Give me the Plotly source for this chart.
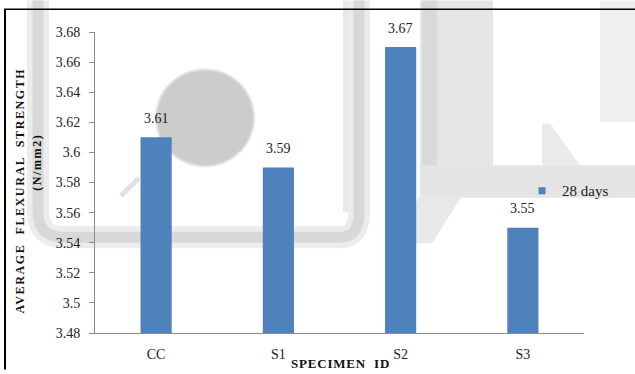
import plotly.graph_objects as go

# ---- data ----
specimens = ["CC", "S1", "S2", "S3"]
strength_28d = [3.61, 3.59, 3.67, 3.55]
series_name = "28 days"
y_ticks = [3.48, 3.50, 3.52, 3.54, 3.56, 3.58, 3.60, 3.62, 3.64, 3.66, 3.68]
y_tick_labels = [f"{v:g}" for v in y_ticks]

# ---- page geometry (pixels) ----
W, H = 635, 374
L, R, T, B = 95, 51, 32, 37
PW, PH = W - L - R, H - T - B

def px(x):
    return (x - L) / PW

def py(y):
    return (H - B - y) / PH

FONT = "Liberation Serif"
BAR = "#4F81BD"
TXT = "#222222"

fig = go.Figure()
fig.add_trace(go.Bar(
    x=specimens, y=strength_28d, name=series_name,
    marker=dict(color=BAR, line=dict(width=0)),
    showlegend=False,
))
# legend entry with a small square key
fig.add_trace(go.Scatter(
    x=[None], y=[None], mode="markers", name=series_name,
    marker=dict(symbol="square", size=7, color=BAR),
))

# value labels above the bars
for s, v in zip(specimens, strength_28d):
    fig.add_annotation(x=s, y=v, text=f"{v:.2f}", showarrow=False,
                       yshift=19, font=dict(family=FONT, size=14, color=TXT))

# faint grey background artwork
shapes = []
def rect(x0, y0, x1, y1, color):
    shapes.append(dict(type="rect", xref="paper", yref="paper", layer="below",
                       x0=px(x0), x1=px(x1), y0=py(y1), y1=py(y0),
                       fillcolor=color, line=dict(width=0)))

def poly(points, color):
    d = "M " + " L ".join(f"{px(a)},{py(b)}" for a, b in points) + " Z"
    shapes.append(dict(type="path", xref="paper", yref="paper", layer="below",
                       path=d, fillcolor=color, line=dict(width=0)))

rect(420, 0, 493, 170, "#e6e6e6")
rect(422, 0, 437, 200, "#d9d9d9")
rect(420, 167, 635, 200, "#e4e4e4")
rect(600, 0, 635, 123, "#efefef")
rect(343, 0, 350, 215, "#e9e9e9")
poly([(542, 125), (550, 125), (580, 167), (542, 167)], "#eaeaea")
poly([(420, 198), (462, 198), (432, 246), (392, 246)], "#e8e8e8")

# soft halo under the curved band, then the band itself
curve = (f"M {px(38)},{py(0)} L {px(38)},{py(215)} "
         f"Q {px(38)},{py(240)} {px(65)},{py(240)} L {px(340)},{py(240)} "
         f"Q {px(359)},{py(240)} {px(359)},{py(215)} L {px(359)},{py(0)}")
shapes.append(dict(type="path", xref="paper", yref="paper", layer="below",
                   path=curve, line=dict(color="#ececec", width=22)))
shapes.append(dict(type="path", xref="paper", yref="paper", layer="below",
                   path=curve, line=dict(color="#d8d8d8", width=11)))
shapes.append(dict(type="circle", xref="paper", yref="paper", layer="below",
                   x0=px(155), x1=px(255), y0=py(169), y1=py(69),
                   fillcolor="#e2e2e2", line=dict(width=0)))
shapes.append(dict(type="circle", xref="paper", yref="paper", layer="below",
                   x0=px(157), x1=px(253), y0=py(167), y1=py(71),
                   fillcolor="#cccccc", line=dict(width=0)))
shapes.append(dict(type="line", xref="paper", yref="paper", layer="below",
                   x0=px(121), y0=py(198), x1=px(139), y1=py(180),
                   line=dict(color="#e0e0e0", width=5)))

# outer frame (top and left edges)
shapes.append(dict(type="line", xref="paper", yref="paper", layer="above",
                   x0=px(4), x1=px(W), y0=py(9), y1=py(9),
                   line=dict(color="black", width=1.5)))
shapes.append(dict(type="line", xref="paper", yref="paper", layer="above",
                   x0=px(5), x1=px(5), y0=py(9), y1=py(H),
                   line=dict(color="black", width=2)))

# axis titles
SP = "letter-spacing:1.6px"
fig.add_annotation(xref="paper", yref="paper", x=px(19.5), y=py(193),
                   text=f"<b><span style='{SP}'>AVERAGE  FLEXURAL  STRENGTH</span></b>",
                   textangle=-90, showarrow=False, xanchor="center", yanchor="middle",
                   font=dict(family=FONT, size=12, color="#111"))
fig.add_annotation(xref="paper", yref="paper", x=px(37.5), y=py(164),
                   text=f"<b><span style='{SP}'>(N/mm2)</span></b>", textangle=-90,
                   showarrow=False, xanchor="center", yanchor="middle",
                   font=dict(family=FONT, size=12, color="#111"))
fig.add_annotation(xref="paper", yref="paper", x=px(340), y=py(368),
                   text="<b><span style='letter-spacing:0.8px'>SPECIMEN  ID</span></b>",
                   showarrow=False, xanchor="center", yanchor="middle",
                   font=dict(family=FONT, size=13, color="#111"))

fig.update_layout(
    width=W, height=H,
    margin=dict(l=L, r=R, t=T, b=B),
    paper_bgcolor="white", plot_bgcolor="rgba(0,0,0,0)",
    bargap=0.745,
    shapes=shapes,
    font=dict(family=FONT, size=14, color=TXT),
    legend=dict(x=px(522), y=py(193), xanchor="left", yanchor="middle",
                bgcolor="rgba(0,0,0,0)", font=dict(family=FONT, size=15, color=TXT),
                itemwidth=30),
    xaxis=dict(showline=True, linecolor="#8c8c8c", linewidth=1,
               ticks="", showgrid=False, zeroline=False,
               ticklabelstandoff=8,
               tickfont=dict(family=FONT, size=14, color=TXT)),
    yaxis=dict(range=[3.48, 3.68], tickvals=y_ticks, ticktext=y_tick_labels,
               showline=True, linecolor="#8c8c8c", linewidth=1,
               ticks="outside", ticklen=5, tickcolor="#8c8c8c",
               showgrid=False, zeroline=False, ticklabelstandoff=6,
               tickfont=dict(family=FONT, size=14, color=TXT)),
)

fig.write_html("out.html")
